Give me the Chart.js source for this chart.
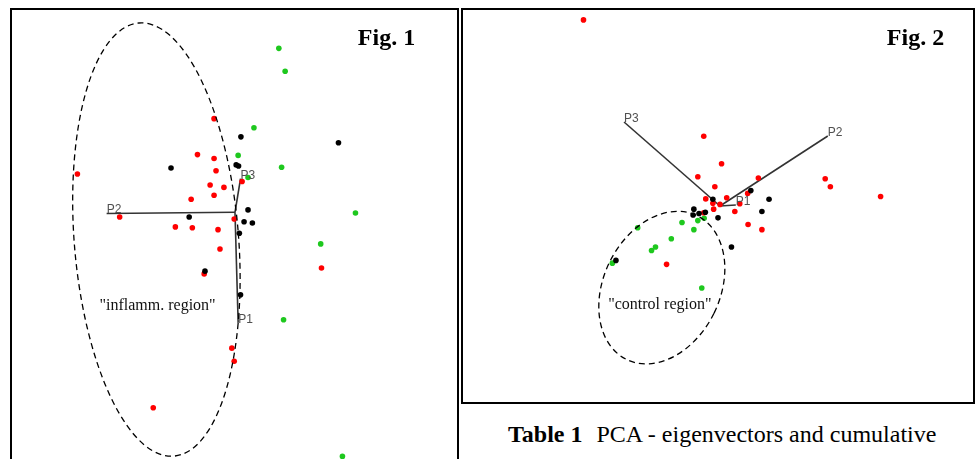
<!DOCTYPE html>
<html><head><meta charset="utf-8">
<script src="https://cdn.jsdelivr.net/npm/chart.js@4.4.1/dist/chart.umd.min.js"></script>
<style>
html,body{margin:0;padding:0;background:#fff;width:977px;height:459px;overflow:hidden;position:relative;}
.panel{position:absolute;border:2px solid #000;box-sizing:border-box;}
#p1{left:10px;top:8px;width:449px;height:480px;}
#p2{left:461px;top:8px;width:514px;height:396px;}
.cw{position:absolute;}
#c1w{left:12px;top:10px;width:445px;height:449px;}
#c2w{left:463px;top:10px;width:510px;height:392px;}
#cap{position:absolute;left:508px;top:421.5px;font-family:'Liberation Serif','Times New Roman',serif;font-size:24px;line-height:24px;white-space:pre;color:#000;}
#cap b{margin-right:8px;}
</style></head><body>
<div class="panel" id="p1"></div><div class="panel" id="p2"></div>
<div class="cw" id="c1w"><canvas id="c1" width="445" height="449"></canvas></div>
<div class="cw" id="c2w"><canvas id="c2" width="510" height="392"></canvas></div>
<div id="cap"><b>Table 1</b> PCA - eigenvectors and cumulative</div>
<script>
// ---------- Fig. 1 data (PCA scores) ----------
const fig1Green = [[1.11,4.15],[1.27,3.57],[0.48,2.14],[0.08,1.44],[1.18,1.14],[0.33,0.88],[3.05,-0.02],[2.17,-0.80],[1.23,-2.72],[2.72,-6.18]];
const fig1Black = [[0.15,1.91],[2.62,1.76],[-1.62,1.12],[0.03,1.20],[0.09,1.17],[0.33,0.06],[-1.16,-0.12],[0.23,-0.24],[0.44,-0.27],[0.11,-0.53],[-0.76,-1.49],[0.14,-2.09]];
const fig1Red = [[-0.53,2.37],[-0.95,1.46],[-0.53,1.36],[-0.48,1.05],[-3.99,0.97],[0.18,0.78],[-0.63,0.69],[-0.28,0.63],[-0.53,0.43],[-1.11,0.33],[-2.92,-0.12],[-0.02,-0.17],[-1.51,-0.37],[-1.08,-0.39],[-0.43,-0.44],[-0.38,-0.93],[-0.78,-1.56],[2.19,-1.41],[-0.08,-3.44],[-0.02,-3.77],[-2.07,-4.95]];
const fig1VecNames = ['P1','P2','P3'];
const fig1VecEnds = [[0.08,-2.8],[-3.25,-0.03],[0.14,0.85]];
const fig1Ellipse = [-1.99,-0.69,2.08,5.5,-4.6]; // cx, cy, semi-x, semi-y, rotation deg
const fig1Region = ['"inflamm. region"',-1.96,-2.38];
const fig1Range = [-5.575,5.55,-6.175,5.05];

// ---------- Fig. 2 data (PCA scores) ----------
const fig2Red = [[-3.45,4.72],[-0.41,1.77],[0.04,1.07],[-0.56,0.74],[0.97,0.71],[2.66,0.69],[2.79,0.49],[-0.13,0.49],[0.70,0.32],[4.06,0.24],[0.17,0.21],[-0.36,0.18],[0.50,0.06],[0.00,0.04],[-0.18,0.07],[-0.16,-0.08],[0.375,-0.14],[-0.41,-0.17],[0.71,-0.47],[1.06,-0.60],[-1.35,-1.48]];
const fig2Black = [[0.78,0.39],[1.24,0.17],[-0.18,0.17],[1.06,-0.14],[-0.66,-0.08],[-0.53,-0.19],[-0.37,-0.16],[-0.68,-0.23],[-0.05,-0.30],[0.29,-1.04],[-2.63,-1.38]];
const fig2Green = [[-2.08,-0.55],[-0.96,-0.42],[-0.56,-0.37],[-0.40,-0.31],[-0.66,-0.60],[-1.23,-0.83],[-1.63,-1.04],[-1.73,-1.13],[-2.72,-1.45],[-0.46,-2.08]];
const fig2VecNames = ['P1','P2','P3'];
const fig2VecEnds = [[0.40,0.025],[2.725,1.775],[-2.425,2.13]];
const fig2Ellipse = [-1.47,-2.07,1.47,2.03,26.2];
const fig2Region = ['"control region"',-1.52,-2.5];
const fig2Range = [-6.425,6.325,-4.9,4.9];

const RED='#ff0000', GREEN='#1ec81e', BLACK='#000000';

function pts(a){return a.map(p=>({x:p[0],y:p[1]}));}

function makeOverlay(title, names, ends, ell, region){
  return {
    id:'overlay',
    afterDatasetsDraw(chart){
      const ctx=chart.ctx, xs=chart.scales.x, ys=chart.scales.y;
      const ux=Math.abs(xs.getPixelForValue(1)-xs.getPixelForValue(0));
      const uy=Math.abs(ys.getPixelForValue(1)-ys.getPixelForValue(0));
      ctx.save();
      ctx.beginPath();
      ctx.ellipse(xs.getPixelForValue(ell[0]), ys.getPixelForValue(ell[1]), ell[2]*ux, ell[3]*uy, ell[4]*Math.PI/180, 0, 2*Math.PI);
      ctx.setLineDash([6,4]); ctx.lineWidth=1.3; ctx.strokeStyle='#000'; ctx.stroke();
      ctx.setLineDash([]);
      ctx.font='12px "Liberation Sans", Arial, sans-serif'; ctx.fillStyle='#505050';
      ctx.textAlign='left'; ctx.textBaseline='alphabetic';
      names.forEach((n,i)=>ctx.fillText(n, xs.getPixelForValue(ends[i][0]), ys.getPixelForValue(ends[i][1])));
      ctx.font='16px "Liberation Serif", "Times New Roman", serif'; ctx.fillStyle='#111';
      ctx.textAlign='center'; ctx.textBaseline='middle';
      ctx.fillText(region[0], xs.getPixelForValue(region[1]), ys.getPixelForValue(region[2]));
      ctx.font='bold 24px "Liberation Serif", "Times New Roman", serif'; ctx.fillStyle='#000';
      ctx.textAlign='left'; ctx.textBaseline='alphabetic';
      ctx.fillText(title[0], chart.chartArea.left+title[1], chart.chartArea.top+title[2]);
      ctx.restore();
    }
  };
}

function build(id, red, green, black, names, ends, ell, region, range, title){
  const ptDs=(d,c)=>({data:pts(d), backgroundColor:c, borderWidth:0, pointRadius:2.8, pointHoverRadius:2.8, clip:false});
  const vecDs = ends.map(e=>({data:[{x:0,y:0},{x:e[0],y:e[1]}], showLine:true, pointRadius:0, borderColor:'#333333', borderWidth:1.6, clip:false}));
  new Chart(document.getElementById(id), {
    type:'scatter',
    data:{datasets:[ptDs(black,BLACK), ptDs(red,RED), ptDs(green,GREEN), ...vecDs]},
    options:{
      responsive:false, animation:false, devicePixelRatio:1,
      layout:{padding:0},
      plugins:{legend:{display:false}, tooltip:{enabled:false}, title:{display:false}},
      events:[],
      scales:{
        x:{type:'linear', display:false, min:range[0], max:range[1]},
        y:{type:'linear', display:false, min:range[2], max:range[3]}
      }
    },
    plugins:[makeOverlay(title, names, ends, ell, region)]
  });
}

build('c1', fig1Red, fig1Green, fig1Black, fig1VecNames, fig1VecEnds, fig1Ellipse, fig1Region, fig1Range, ['Fig. 1',343,31.7]);
build('c2', fig2Red, fig2Green, fig2Black, fig2VecNames, fig2VecEnds, fig2Ellipse, fig2Region, fig2Range, ['Fig. 2',421,31.7]);
</script>
</body></html>
